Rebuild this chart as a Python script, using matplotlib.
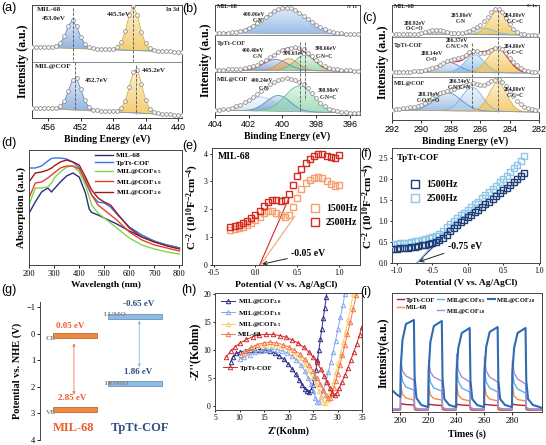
import numpy as np
import matplotlib
matplotlib.use("Agg")
import matplotlib.pyplot as plt
import matplotlib.colors as mcolors

plt.rcParams['font.family'] = 'Liberation Serif'
plt.rcParams['mathtext.fontset'] = 'custom'
plt.rcParams['mathtext.rm'] = 'Liberation Serif:bold'
plt.rcParams['mathtext.it'] = 'Liberation Serif:bold'
plt.rcParams['mathtext.bf'] = 'Liberation Serif:bold'
plt.rcParams['mathtext.default'] = 'rm'
plt.rcParams['axes.linewidth'] = 0.7
plt.rcParams['axes.edgecolor'] = '#444444'

# ---------------- (a) In 3d ----------------
in_x = np.arange(458, 439.4, -0.5)
in_mil = [71.2, 71.1, 71.1, 71.1, 71.1, 71.2, 72.0, 74.9, 82.0, 92.3, 97.7, 92.0, 81.4, 74.1, 70.9, 69.8, 69.4, 69.4, 69.2,
          69.2, 69.5, 70.8, 75.6, 86.8, 103.0, 111.6, 102.7, 86.3, 74.7, 69.7, 68.1, 67.5, 67.2, 66.8, 66.6, 66.3, 66.1, 66.0]
in_mil_base = [71.0, 65.9]
in_mil_c1 = [0.2, 0.2, 0.3, 0.4, 0.5, 0.8, 1.7, 4.8, 12.0, 22.4, 28.0, 22.4, 12.0, 4.8, 1.7, 0.8, 0.5, 0.3, 0.2] + [0] * 19
in_mil_c2 = [0] * 16 + [0.2, 0.3, 0.4, 0.7, 1.2, 2.6, 7.5, 18.9, 35.2, 44.0, 35.2, 18.9, 7.5, 2.6, 1.2, 0.7, 0.4, 0.3, 0.2, 0.1, 0.1, 0.0]
in_cof = [10.2, 10.0, 9.9, 9.8, 9.7, 9.7, 10.0, 11.6, 16.7, 27.2, 38.5, 39.7, 29.2, 17.6, 11.0, 8.5, 7.6, 7.5, 7.2,
          6.9, 7.0, 7.5, 9.8, 16.9, 31.1, 46.5, 48.2, 34.1, 18.3, 9.4, 6.0, 4.9, 4.5, 4.1, 3.7, 3.4, 3.1, 2.9]
in_cof_base = [10.0, 2.8]
in_cof_c1 = [0.2, 0.2, 0.3, 0.4, 0.5, 0.7, 1.2, 3.0, 8.3, 18.9, 30.4, 31.8, 21.5, 10.1, 3.7, 1.4, 0.7, 0.5, 0.3] + [0] * 19
in_cof_c2 = [0] * 17 + [0.3, 0.4, 0.6, 0.9, 1.6, 4.1, 11.4, 25.8, 41.4, 43.3, 29.3, 13.7, 5.0, 1.8, 0.9, 0.7, 0.5, 0.3, 0.2, 0.1, 0.1]

# ---------------- (b) N 1s ----------------
n_x = np.arange(404, 395.4, -0.25)
n_mil = [82.1, 82.2, 82.2, 82.4, 82.8, 83.4, 84.2, 85.4, 87.1, 89.2, 91.8, 94.8, 97.9, 101.0, 103.8, 106.0, 107.2, 107.5,
         106.7, 104.8, 102.3, 99.3, 96.2, 92.9, 90.1, 87.7, 85.7, 84.2, 83.1, 82.4, 81.8, 81.5, 81.3, 81.1, 81.0]
n_mil_base = [82.0, 81.0]
n_mil_c1 = [0.1, 0.2, 0.3, 0.5, 0.9, 1.5, 2.4, 3.6, 5.3, 7.5, 10.1, 13.1, 16.3, 19.4, 22.2, 24.4, 25.7, 26.0, 25.2, 23.4,
            20.9, 17.9, 14.8, 11.6, 8.8, 6.4, 4.5, 3.0, 1.9, 1.2, 0.7, 0.4, 0.2, 0.1, 0.0]
n_cof = [45.4, 45.5, 45.5, 45.7, 45.9, 46.2, 46.5, 47.1, 47.8, 48.9, 50.5, 52.7, 55.1, 57.8, 60.4, 62.9, 65.1, 66.5,
         67.3, 67.6, 67.4, 65.6, 62.5, 58.7, 54.9, 51.7, 49.2, 47.5, 46.4, 45.6, 45.1, 44.8, 44.6, 44.4, 44.3]
n_cof_base = [45.0, 44.0]
n_cof_c1 = [0] * 5 + [0.1, 0.2, 0.4, 0.9, 1.9, 3.4, 5.5, 7.8, 9.8, 10.9, 10.8, 9.4, 7.3, 5.0, 3.1, 1.7, 0.8, 0.3, 0.1] + [0] * 11
n_cof_c2 = [0] * 11 + [0.2, 0.5, 1.5, 3.4, 6.3, 9.6, 11.7, 11.7, 9.4, 6.3, 3.3, 1.5, 0.5, 0.2] + [0] * 10
n_cof_c3 = [0] * 14 + [0.2, 0.6, 1.5, 3.3, 6.2, 9.9, 13.3, 15.3, 15.0, 12.4, 8.8, 5.3, 2.7, 1.2, 0.4, 0.2, 0.1] + [0] * 4
n_hyb = [5.3, 5.4, 5.7, 6.2, 7.3, 8.6, 10.5, 12.8, 15.5, 18.4, 21.2, 24.4, 27.5, 30.7, 33.3, 35.3, 36.4, 36.7, 36.4,
         35.3, 33.4, 30.7, 26.6, 21.8, 16.9, 12.4, 8.9, 6.4, 4.7, 3.6, 3.1, 2.7, 2.4, 2.2, 2.0]
n_hyb_base = [5.0, 2.0]
n_hyb_c0 = [0.2, 0.3, 0.7, 1.3, 2.4, 3.8, 5.8, 8.0, 10.3, 12.4, 13.7, 14.0, 13.2, 11.6, 9.4, 7.1, 4.9, 3.2, 1.9, 1.1, 0.5, 0.3, 0.1] + [0] * 12
n_hyb_c1 = [0] * 6 + [0.1, 0.3, 0.7, 1.6, 3.2, 5.7, 8.9, 12.3, 14.9, 16.0, 15.1, 12.5, 9.2, 5.9, 3.3, 1.7, 0.7, 0.3, 0.1] + [0] * 10
n_hyb_c3 = [0] * 11 + [0.7, 1.6, 3.0, 5.3, 8.5, 12.7, 17.3, 21.6, 24.7, 26.0, 25.1, 22.2, 18.0, 13.4, 9.1, 5.7, 3.3, 1.7, 0.8, 0.4, 0.2, 0.1] + [0] * 2

# ---------------- (c) C 1s ----------------
c_x = np.arange(292, 281.9, -0.25)
c_mil = [86.2, 86.2, 86.2, 86.1, 86.2, 86.2, 86.3, 86.4, 86.8, 87.6, 88.6, 89.6, 90.2, 90.0, 89.2, 88.1, 87.3, 86.8,
         86.8, 87.1, 88.0, 89.1, 90.7, 92.6, 95.2, 98.8, 103.5, 108.2, 111.3, 111.5, 108.1, 102.1, 95.8, 90.8, 87.8,
         86.2, 85.6, 85.4, 85.3, 85.2, 85.1]
c_mil_base = [86.0, 85.0]
c_mil_c1 = [0] * 6 + [0.1, 0.4, 0.9, 1.7, 2.8, 3.9, 4.5, 4.3, 3.5, 2.4, 1.4, 0.7, 0.3, 0.1] + [0] * 21
c_mil_c2 = [0] * 16 + [0.2, 0.4, 0.8, 1.4, 2.4, 3.5, 4.7, 5.8, 6.4, 6.4, 5.9, 4.9, 3.6, 2.5, 1.5, 0.9, 0.4, 0.2, 0.1] + [0] * 6
c_mil_c3 = [0] * 22 + [0.4, 1.3, 3.2, 6.9, 12.1, 18.1, 22.7, 23.9, 21.2, 15.8, 9.9, 5.2, 2.3, 0.8, 0.3, 0.1] + [0] * 3
c_cof = [48.3, 48.3, 48.4, 48.3, 48.4, 48.5, 48.7, 48.8, 49.1, 49.7, 50.6, 51.7, 53.2, 55.1, 57.3, 59.0, 60.2, 60.9,
         61.8, 63.3, 65.5, 67.7, 69.1, 68.6, 67.2, 67.0, 68.2, 70.5, 72.3, 72.5, 70.7, 66.8, 62.2, 58.0, 54.6, 52.0,
         50.3, 49.2, 48.5, 48.0, 47.7]
c_cof_base = [48.0, 47.0]
c_cof_c1 = [0] * 6 + [0.1, 0.2, 0.5, 1.0, 1.9, 3.3, 5.2, 7.2, 8.9, 9.9, 9.8, 8.7, 7.0, 4.9, 3.2, 1.8, 0.9, 0.4, 0.2, 0.1] + [0] * 15
c_cof_c2 = [0] * 14 + [0.1, 0.3, 0.8, 1.9, 4.0, 7.2, 11.3, 15.2, 17.6, 17.7, 15.3, 11.4, 7.3, 4.1, 1.9, 0.8, 0.3, 0.1] + [0] * 9
c_cof_c3 = [0] * 20 + [0.2, 0.5, 1.3, 2.8, 5.5, 9.6, 14.6, 19.5, 23.0, 23.9, 21.9, 17.6, 12.5, 7.8, 4.3, 2.1, 0.9, 0.3, 0.1] + [0] * 2
c_hyb = [10.5, 10.8, 11.1, 11.6, 12.0, 12.7, 13.4, 14.2, 15.0, 16.8, 19.5, 22.3, 24.8, 26.6, 28.0, 29.1, 30.0, 31.5,
         32.9, 34.1, 35.1, 36.3, 36.9, 36.3, 35.1, 35.3, 36.7, 38.7, 40.0, 40.8, 37.9, 34.5, 29.4, 24.2, 19.5, 15.9,
         13.2, 11.8, 10.9, 10.4, 10.0]
c_hyb_base = [10.0, 8.0]
c_hyb_c1 = [0] * 4 + [0.1, 0.4, 0.7, 1.3, 2.4, 4.0, 6.2, 9.0, 12.0, 14.9, 16.9, 18.0, 17.6, 16.0, 13.4, 10.4, 7.6, 5.0, 3.1, 1.8, 1.0, 0.5, 0.2, 0.1] + [0] * 13
c_hyb_c2 = [0] * 13 + [0.1, 0.4, 1.2, 2.7, 5.3, 9.4, 14.4, 19.3, 22.9, 24.0, 22.0, 17.8, 12.6, 8.0, 4.4, 2.2, 0.9, 0.3, 0.1] + [0] * 9
c_hyb_c3 = [0] * 22 + [0.5, 1.6, 3.9, 8.3, 14.7, 21.9, 27.4, 28.9, 25.6, 19.0, 11.9, 6.2, 2.8, 1.0, 0.3, 0.1] + [0] * 3

# ---------------- (d) UV-vis ----------------
uv_wl = [200, 225, 250, 275, 290, 300, 325, 350, 375, 400, 425, 440, 450, 475, 500, 525, 550, 600, 650, 700, 750, 800]
uv_mil = [51.7, 63, 73, 77, 73, 76, 83, 89, 92, 88, 72, 56, 52.5, 50, 47, 44, 41, 34, 28, 23, 20, 17]
uv_cof = [97, 97, 99, 104, 106.5, 107, 107, 106, 103, 97, 83, 75, 70, 63, 62, 58, 51, 38, 30, 24, 20, 17]
uv_h05 = [60, 77, 77, 78, 82, 87, 93, 98, 99, 93, 80, 68, 60, 52, 47, 42, 37, 27, 20, 16, 13, 11]
uv_h10 = [67, 82, 83, 87, 90, 92, 97, 99, 99, 96, 85, 76, 70, 60, 55, 50, 45, 33, 25, 20, 17, 14]
uv_h20 = [83, 92, 93, 95, 97, 99, 103, 105, 103, 100, 88, 80, 75, 67, 63, 60, 52, 37, 28, 23, 19, 16]

# ---------------- (e)(f) Mott-Schottky ----------------
ms_e_x = np.round(np.arange(-0.3, 1.001, 0.05), 2)
ms_mil_1500 = [1.25, 1.28, 1.32, 1.37, 1.44, 1.52, 1.62, 1.74, 1.86, 1.93, 1.94, 1.88, 1.78, 1.72, 1.80, 2.08, 2.42,
               2.72, 2.93, 3.06, 3.13, 3.15, 3.11, 3.02, 2.90, 2.83, 2.86]
ms_mil_2500 = [1.38, 1.41, 1.45, 1.51, 1.58, 1.68, 1.80, 1.95, 2.12, 2.25, 2.33, 2.35, 2.31, 2.33, 2.55, 2.88, 3.20,
               3.45, 3.65, 3.80, 3.92, 3.98, 3.98, 3.93, 3.86, 3.83, 3.95]
mil_tan_1500 = ([0.06, 0.47], [0.0, 1.75])
mil_tan_2500 = ([0.05, 0.40], [0.0, 2.40])
ms_f_x = np.round(np.arange(-1.05, 0.801, 0.05), 2)
ms_cof_1500 = [0.33, 0.34, 0.35, 0.36, 0.37, 0.38, 0.39, 0.40, 0.42, 0.43, 0.45, 0.47, 0.50, 0.54, 0.60, 0.68, 0.76,
               0.84, 0.91, 0.97, 1.03, 1.09, 1.15, 1.21, 1.27, 1.34, 1.40, 1.47, 1.53, 1.60, 1.67, 1.74, 1.80, 1.87,
               1.94, 2.01, 2.08, 2.16]
ms_cof_2500 = [0.45, 0.46, 0.47, 0.48, 0.49, 0.50, 0.52, 0.53, 0.55, 0.57, 0.59, 0.62, 0.65, 0.70, 0.77, 0.85, 0.93,
               1.01, 1.08, 1.14, 1.20, 1.26, 1.33, 1.40, 1.47, 1.55, 1.62, 1.70, 1.77, 1.85, 1.93, 2.01, 2.09, 2.17,
               2.26, 2.35, 2.44, 2.55]
cof_tan_1500 = ([-0.72, -0.25], [0.0, 0.78])
cof_tan_2500 = ([-0.72, -0.32], [0.0, 0.78])

# ---------------- (g) band levels ----------------
mil_cb, mil_vb = 0.05, 2.85
cof_lumo, cof_homo = -0.65, 1.86

# ---------------- (h) EIS ----------------
eis_h20_x = [8.2, 8.7, 9.3, 10.2, 11.2, 12.2, 13.2, 14.2, 15.2, 16.2, 17.2, 18.1, 19.0, 19.9, 20.7, 21.5, 22.2, 22.8,
             23.3, 23.8, 24.2, 24.6, 25.0, 25.3, 25.6, 25.9, 26.2, 26.5, 26.8, 27.1, 27.4, 27.7, 28.0]
eis_h20_y = [7.9, 8.8, 9.4, 9.7, 9.9, 10.0, 10.1, 10.1, 10.0, 9.8, 9.5, 9.0, 8.4, 7.6, 6.7, 5.7, 4.7, 3.8, 3.1, 2.7,
             2.6, 2.9, 3.8, 5.0, 6.5, 8.2, 10.0, 11.9, 13.8, 15.7, 17.6, 19.5, 21.4]
eis_h10_x = [10.0, 11.0, 12.1, 13.2, 14.3, 15.4, 16.5, 17.6, 18.7, 19.7, 20.7, 21.6, 22.5, 23.3, 24.0, 24.6, 25.1,
             25.5, 25.9, 26.3, 26.7, 27.1, 27.6, 28.1, 28.6, 29.1, 29.6, 30.1, 30.6, 31.1, 31.5]
eis_h10_y = [8.4, 8.8, 9.2, 9.6, 9.9, 10.1, 10.2, 10.1, 9.9, 9.5, 9.0, 8.3, 7.4, 6.3, 5.1, 3.9, 2.7, 1.5, 0.7, 0.8,
             1.6, 2.8, 4.3, 6.0, 7.8, 9.7, 11.7, 13.8, 15.9, 18.1, 20.0]
eis_h05_x = [11.0, 12.0, 13.1, 14.3, 15.5, 16.7, 17.9, 19.1, 20.3, 21.4, 22.4, 23.3, 24.1, 24.9, 25.6, 26.2, 26.7,
             27.1, 27.5, 27.9, 28.3, 28.7, 29.2, 29.7, 30.2, 30.7, 31.2, 31.7, 32.2, 32.7, 33.2]
eis_h05_y = [9.6, 10.2, 10.6, 10.9, 11.0, 11.0, 10.8, 10.5, 10.0, 9.3, 8.5, 7.5, 6.4, 5.2, 3.9, 2.7, 1.6, 0.8, 0.6,
             1.0, 1.9, 3.0, 4.4, 6.0, 7.7, 9.5, 11.4, 13.4, 15.5, 17.7, 20.0]
eis_mil_x = [10.3, 11.3, 12.4, 13.6, 14.9, 16.2, 17.5, 18.8, 20.0, 21.2, 22.3, 23.3, 24.2, 25.0, 25.8, 26.5, 27.1,
             27.6, 28.0, 28.4, 28.8, 29.2, 29.6, 30.0, 30.5, 31.0, 31.5, 32.0, 32.6, 33.2, 33.8]
eis_mil_y = [9.2, 9.9, 10.5, 11.0, 11.3, 11.4, 11.3, 11.0, 10.6, 10.0, 9.3, 8.4, 7.4, 6.3, 5.1, 3.9, 2.8, 1.9, 1.4,
             1.5, 2.2, 3.2, 4.4, 5.8, 7.4, 9.1, 10.9, 12.8, 15.0, 17.3, 19.8]
eis_cof_x = [7.3, 8.2, 9.1, 10.2, 11.4, 12.7, 14.0, 15.4, 16.8, 18.2, 19.5, 20.8, 22.0, 23.1, 24.1, 25.0, 25.8, 26.6,
             27.3, 27.9, 28.4, 28.9, 29.4, 29.9, 30.4, 30.9, 31.5, 32.1, 32.7, 33.3, 33.9, 34.5, 35.0]
eis_cof_y = [8.8, 9.8, 10.6, 11.3, 11.9, 12.4, 12.7, 12.8, 12.8, 12.6, 12.3, 11.8, 11.2, 10.5, 9.7, 8.8, 7.8, 6.6,
             5.4, 4.3, 3.2, 2.3, 1.9, 2.4, 3.3, 4.3, 5.5, 6.8, 8.2, 9.6, 11.1, 12.7, 14.2]

# ---------------- (i) photocurrent ----------------
pc_starts = [200, 220, 240, 260, 280]
pc_offsets = [0, 0.3, 1.5, 4, 9.7, 10.2, 11.5, 15, 19.7]
pc_t = [194, 197] + [s + o for s in pc_starts for o in pc_offsets] + [301.5]
pc_cof = [2, 2, 2, 8.5, 8, 7.5, 7, 2.5, 2, 2, 2, 2, 8, 7.5, 7, 6.5, 2.5, 2, 2, 2, 2, 8, 7.5, 7, 6.5, 2.5, 2, 2, 2,
          2, 8, 7.5, 7, 6.5, 2.5, 2, 2, 2, 2, 8, 7.5, 7, 6.5, 2.5, 2, 2, 2, 2]
pc_mil = [2.5, 2.5, 2.5, 27, 18, 14, 12, 3.5, 3, 2.5, 2.5, 2.5, 26, 17, 13.5, 12, 3.5, 3, 2.5, 2.5, 2.5, 27, 17, 13, 11,
          3.5, 3, 2.5, 2.5, 2.5, 27, 17, 13, 11, 3.5, 3, 2.5, 2.5, 2.5, 26, 16, 12.5, 11, 3.5, 3, 2.5, 2.5, 2.5]
pc_h05 = [3, 3, 3, 42, 31, 25, 22, 4.5, 3.5, 3, 3, 3, 40, 30, 24, 21, 4.5, 3.5, 3, 3, 3, 44, 31, 24, 20, 4.5, 3.5, 3, 3,
          3, 42, 30, 24, 20, 4.5, 3.5, 3, 3, 3, 40, 29, 23, 19, 4.5, 3.5, 3, 3, 3]
pc_h10 = [3, 3, 3, 53, 41, 36, 32, 5, 3.5, 3, 3, 3, 52, 40, 35, 31, 5, 3.5, 3, 3, 3, 58, 42, 35, 30, 5, 3.5, 3, 3,
          3, 55, 41, 35, 30, 5, 3.5, 3, 3, 3, 52, 39, 33, 28, 5, 3.5, 3, 3, 3]
pc_h20 = [22, 18, 15, 45, 72, 88, 92, 35, 14, 7, 5, 5, 42, 70, 86, 91, 34, 13, 7, 5, 5, 40, 64, 79, 84, 32, 13, 7, 5,
          5, 40, 65, 80, 85, 32, 13, 7, 5, 5, 40, 64, 79, 84, 32, 13, 7, 5, 4]

# =====================================================================
fig = plt.figure(figsize=(5.46, 4.45), dpi=100)
W, H = 546.0, 445.0


def box(l, t, r, b):
    return fig.add_axes([l / W, 1 - b / H, (r - l) / W, (b - t) / H])


def grad_fill(ax, x, lo, hi, color):
    poly = ax.fill_between(x, lo, hi, facecolor='none', edgecolor='none')
    path = poly.get_paths()[0]
    img = np.ones((64, 1, 4))
    img[:, :, :3] = mcolors.to_rgb(color)
    img[:, 0, 3] = np.linspace(0.9, 0.25, 64)
    im = ax.imshow(img, extent=[x.min(), x.max(), lo.min(), hi.max()], origin='lower',
                   aspect='auto', zorder=1, interpolation='bilinear')
    im.set_clip_path(path, transform=ax.transData)


def draw_spec(ax, x, env, base_ends, comps, fit=None):
    base = np.linspace(base_ends[0], base_ends[1], len(x))
    total = np.zeros(len(x))
    for h, fc, lc in comps:
        h = np.asarray(h, float)
        total += h
        grad_fill(ax, x, base, base + h, fc)
        ax.plot(x, base + h, color=lc, lw=0.6, zorder=2)
    ax.plot(x, base, color='#a0a0a0', lw=0.5, zorder=2)
    if fit:
        ax.plot(x, base + total, color=fit, lw=0.9, zorder=3)
    ax.plot(x, env, 'o', ms=2.7, mfc='white', mec='#8e8e8e', mew=0.6, zorder=4)


def xps_axes(ax, xlim, ylim, ticks):
    ax.set_xlim(*xlim)
    ax.set_ylim(*ylim)
    ax.set_xticks(ticks)
    ax.set_yticks([])
    ax.tick_params(axis='x', labelsize=6.5, length=2, width=0.6, pad=1.5)
    for lb in ax.get_xticklabels():
        lb.set_family('Liberation Sans')
    ax.set_xlabel('Binding Energy (eV)', fontsize=7, fontweight='bold', labelpad=2)
    ax.set_ylabel('Intensity (a.u.)', fontsize=8.5, fontweight='bold', labelpad=2)


def note(ax, x, y, s, size=4.1, ha='center', color='#222222'):
    ax.text(x, y, s, fontsize=size, fontweight='bold', ha=ha, va='center', color=color, zorder=6)


BLUE, BLUE_L = '#7ea6dc', '#5a8bd0'
YEL, YEL_L = '#f3c860', '#e3b23c'
ORA, ORA_L = '#f4a868', '#e88a3c'
GRN, GRN_L = '#96dab0', '#5cc488'
LBL, LBL_L = '#b4d2ee', '#7fb6e4'

# (a)
ax = box(32, 5, 182, 118)
draw_spec(ax, in_x, in_mil, in_mil_base, [(in_mil_c1, BLUE, BLUE_L), (in_mil_c2, YEL, YEL_L)])
draw_spec(ax, in_x, in_cof, in_cof_base, [(in_cof_c1, BLUE, BLUE_L), (in_cof_c2, YEL, YEL_L)])
ax.axhline(56, color='#777777', lw=0.6)
ax.plot([453.0, 453.0], [110, 56], ls='--', color='#555555', lw=0.6, zorder=5)
ax.plot([452.7, 452.7], [56, 8], ls='--', color='#555555', lw=0.6, zorder=5)
ax.plot([445.5, 445.5], [112, 57], ls='--', color='#555555', lw=0.6, zorder=5)
ax.plot([445.2, 445.2], [53, 4], ls='--', color='#555555', lw=0.6, zorder=5)
note(ax, 457.4, 108.5, 'MIL-68', 5.2, 'left')
note(ax, 439.8, 108.5, 'In 3d', 4.2, 'right')
note(ax, 455.3, 99.5, '453.0eV', 5.0)
note(ax, 447.3, 104, '445.5eV', 5.0)
note(ax, 457.6, 51.3, 'MIL@COF', 5.2, 'left')
note(ax, 450.0, 38, '452.7eV', 5.0)
note(ax, 443.0, 48, '445.2eV', 5.0)
xps_axes(ax, (458, 439.5), (0, 113), [456, 452, 448, 444, 440])

# (b)
ax = box(215, 5, 360, 115)
draw_spec(ax, n_x, n_mil, n_mil_base, [(n_mil_c1, '#8db6e4', BLUE_L)])
draw_spec(ax, n_x, n_cof, n_cof_base, [(n_cof_c1, BLUE, BLUE_L), (n_cof_c2, ORA, ORA_L), (n_cof_c3, GRN, GRN_L)],
          fit='#e8322a')
draw_spec(ax, n_x, n_hyb, n_hyb_base, [(n_hyb_c0, '#d3e3f4', '#a9c8ea'), (n_hyb_c1, BLUE, BLUE_L),
                                         (n_hyb_c3, GRN, GRN_L)])
ax.axhline(80, color='#777777', lw=0.6)
ax.axhline(43, color='#777777', lw=0.6)
ax.plot([398.98, 398.98], [73, 4], ls='--', color='#555555', lw=0.6, zorder=5)
ax.plot([398.66, 398.66], [73, 15], ls='--', color='#555555', lw=0.6, zorder=5)
note(ax, 403.9, 108.3, 'MIL-68', 4.5, 'left')
note(ax, 395.6, 108.3, 'N 1s', 3.8, 'right')
note(ax, 401.66, 101, '400.06eV')
note(ax, 401.45, 95, 'C-N')
note(ax, 403.9, 71.7, 'TpTt-COF', 4.5, 'left')
note(ax, 401.72, 65, '400.40eV')
note(ax, 401.48, 58.3, 'C-N')
note(ax, 399.3, 61.7, '399.63eV')
note(ax, 397.43, 66.7, '398.66eV')
note(ax, 397.5, 59, 'C-N=C')
note(ax, 403.9, 36.0, 'MIL@COF', 4.5, 'left')
note(ax, 401.9, 34.0, '400.24eV', ha='left')
note(ax, 401.1, 26.7, 'C-N')
note(ax, 397.24, 25, '398.98eV')
note(ax, 397.27, 17.3, 'C-N=C')
xps_axes(ax, (404, 395.4), (0, 110), [404, 402, 400, 398, 396])

# (c)
ax = box(392, 5, 539, 120)
draw_spec(ax, c_x, c_mil, c_mil_base, [(c_mil_c1, '#a8c4e8', BLUE_L), (c_mil_c2, '#9ccbee', LBL_L),
                                        (c_mil_c3, YEL, YEL_L)])
draw_spec(ax, c_x, c_cof, c_cof_base, [(c_cof_c1, '#a8c4e8', BLUE_L), (c_cof_c2, '#8cc2ec', LBL_L),
                                        (c_cof_c3, YEL, YEL_L)], fit='#e8322a')
draw_spec(ax, c_x, c_hyb, c_hyb_base, [(c_hyb_c1, '#94b6e2', BLUE_L), (c_hyb_c2, LBL, LBL_L),
                                        (c_hyb_c3, YEL, YEL_L)])
ax.axhline(83, color='#777777', lw=0.6)
ax.axhline(43, color='#777777', lw=0.6)
ax.plot([284.8, 284.8], [110, 8], ls='--', color='#555555', lw=0.6, zorder=5)
ax.plot([286.54, 286.54], [77, 12], ls='--', color='#555555', lw=0.6, zorder=5)
note(ax, 291.87, 114, 'MIL-68', 4.5, 'left')
note(ax, 282.15, 114, 'C 1s', 3.8, 'right')
note(ax, 290.47, 96.7, '288.92eV')
note(ax, 290.47, 91, 'O-C=O')
note(ax, 287.23, 104.3, '285.86eV')
note(ax, 287.3, 98.3, 'C-N')
note(ax, 283.63, 104.3, '284.80eV')
note(ax, 283.63, 98.3, 'C-C=C')
note(ax, 291.87, 74, 'TpTt-COF', 4.5, 'left')
note(ax, 287.57, 79.3, '286.37eV')
note(ax, 287.53, 73.3, 'C-N/C=N')
note(ax, 289.3, 66.7, '288.14eV')
note(ax, 289.3, 60.7, 'C=O')
note(ax, 283.63, 73.3, '284.80eV')
note(ax, 283.63, 67.3, 'C-C=C')
note(ax, 291.87, 36.7, 'MIL@COF', 4.5, 'left')
note(ax, 287.4, 38.3, '286.54eV')
note(ax, 287.4, 32.7, 'C-N/C=N')
note(ax, 289.53, 25.7, '288.19eV')
note(ax, 289.53, 19.3, 'C-O/C=O')
note(ax, 283.63, 30.7, '284.80eV')
note(ax, 283.63, 24.7, 'C-C=C')
xps_axes(ax, (292, 282), (0, 115), [292, 290, 288, 286, 284, 282])

# (d)
ax = box(29, 150, 182, 265)
for vals, col, lab in [(uv_mil, '#2b2b80', 'MIL-68'), (uv_cof, '#3079e0', 'TpTt-COF'),
                       (uv_h05, '#80d848', 'MIL@COF$_{0.5}$'), (uv_h10, '#e8402a', 'MIL@COF$_{1.0}$'),
                       (uv_h20, '#9a1a1a', 'MIL@COF$_{2.0}$')]:
    ax.plot(uv_wl, vals, color=col, lw=1.0, label=lab)
ax.set_xlim(200, 810)
ax.set_ylim(0, 115)
ax.set_xticks(range(200, 801, 100))
ax.set_yticks([])
ax.tick_params(axis='x', labelsize=6, length=2, width=0.6, pad=1.5)
ax.set_xlabel('Wavelength (nm)', fontsize=6.8, fontweight='bold', labelpad=2)
ax.set_ylabel('Absorption (a.u.)', fontsize=8, fontweight='bold', labelpad=2)
ax.legend(loc='upper left', bbox_to_anchor=(0.42, 1.0), frameon=False, borderaxespad=0.1, borderpad=0.2,
          handlelength=2.4, handletextpad=0.4, labelspacing=0.2, prop={'weight': 'bold', 'size': 5.3})

# (e)
ax = box(212, 148, 360, 265)
ax.plot(ms_e_x, ms_mil_1500, 's', ms=3.7, mfc='none', mec='#f6a070', mew=1.0, label='1500Hz', zorder=3)
ax.plot(ms_e_x, ms_mil_2500, 's', ms=3.7, mfc='none', mec='#d42a22', mew=1.0, label='2500Hz', zorder=3)
ax.plot(*mil_tan_1500, color='#f6a070', lw=0.8)
ax.plot(*mil_tan_2500, color='#d42a22', lw=0.8)
ax.annotate('-0.05 eV', xy=(0.08, 0.03), xytext=(0.43, 0.4), fontsize=7, fontweight='bold', va='center',
            arrowprops=dict(arrowstyle='->', color='#222222', lw=0.7, shrinkA=1, shrinkB=0))
ax.text(0.04, 0.93, 'MIL-68', transform=ax.transAxes, fontsize=7, fontweight='bold', va='center')
ax.set_xlim(-0.52, 1.25)
ax.set_ylim(0, 4.2)
ax.set_xticks([-0.5, 0.0, 0.5, 1.0])
ax.set_xticklabels(['-0.5', '0.0', '0.5', '1.0'])
ax.set_yticks([0, 1, 2, 3, 4])
ax.tick_params(labelsize=5.5, length=1.5, width=0.6, pad=1.5)
ax.set_xlabel('Potential (V vs. Ag/AgCl)', fontsize=6.8, fontweight='bold', labelpad=3)
ax.set_ylabel('C$^{-2}$ (10$^{10}$F$^{-2}$cm$^{-4}$)', fontsize=8, fontweight='bold', labelpad=2)
ax.legend(loc='center left', bbox_to_anchor=(0.6, 0.42), frameon=False, markerscale=1.4, handlelength=1.2,
          handletextpad=0.5, labelspacing=0.5, prop={'weight': 'bold', 'size': 7})

# (f)
ax = box(392, 148, 540, 263)
ax.plot(ms_f_x, ms_cof_2500, 's', ms=3.7, mfc='none', mec='#8ec6ea', mew=1.0, label='2500Hz', zorder=3)
ax.plot(ms_f_x, ms_cof_1500, 's', ms=3.7, mfc='none', mec='#1f3e78', mew=1.0, label='1500Hz', zorder=3)
ax.plot(*cof_tan_1500, color='#1f3e78', lw=0.8)
ax.plot(*cof_tan_2500, color='#8ec6ea', lw=0.8)
ax.annotate('-0.75 eV', xy=(-0.69, 0.03), xytext=(-0.28, 0.4), fontsize=7, fontweight='bold', va='center',
            arrowprops=dict(arrowstyle='->', color='#222222', lw=0.7, shrinkA=1, shrinkB=0))
ax.text(0.03, 0.91, 'TpTt-COF', transform=ax.transAxes, fontsize=6.5, fontweight='bold', va='center')
ax.set_xlim(-1.07, 1.02)
ax.set_ylim(0, 2.75)
ax.set_xticks([-1.0, -0.5, 0.0, 0.5, 1.0])
ax.set_xticklabels(['-1.0', '-0.5', '0.0', '0.5', '1.0'])
ax.set_yticks([0, 0.5, 1.0, 1.5, 2.0, 2.5])
ax.set_yticklabels(['0.0', '0.5', '1.0', '1.5', '2.0', '2.5'])
ax.tick_params(labelsize=5.5, length=1.5, width=0.6, pad=1.5)
ax.set_xlabel('Potential (V vs. Ag/AgCl)', fontsize=6.8, fontweight='bold', labelpad=3)
ax.set_ylabel('C$^{-2}$ (10$^{10}$F$^{-2}$cm$^{-4}$)', fontsize=8, fontweight='bold', labelpad=1)
hs, ls = ax.get_legend_handles_labels()
ax.legend(hs[::-1], ls[::-1], loc='center left', bbox_to_anchor=(0.06, 0.62), frameon=False, markerscale=1.4,
          handlelength=1.2, handletextpad=0.5, labelspacing=0.5, prop={'weight': 'bold', 'size': 7})

# (g)
ax = box(40, 302, 185, 440)
ax.barh(mil_cb, 0.30, left=0.09, height=0.2, color='#f28a3c', edgecolor='#a05a28', lw=0.5)
ax.barh(mil_vb, 0.30, left=0.09, height=0.2, color='#f28a3c', edgecolor='#a05a28', lw=0.5)
ax.barh(cof_lumo, 0.37, left=0.47, height=0.2, color='#8cbce6', edgecolor='#5c82a8', lw=0.5)
ax.barh(cof_homo, 0.37, left=0.47, height=0.2, color='#8cbce6', edgecolor='#5c82a8', lw=0.5)
ax.annotate('', xy=(0.234, mil_cb + 0.2), xytext=(0.234, mil_vb - 0.45),
            arrowprops=dict(arrowstyle='<|-|>', color='#f07a5a', lw=0.6, mutation_scale=4))
ax.annotate('', xy=(0.685, cof_lumo + 0.05), xytext=(0.685, cof_homo - 0.5),
            arrowprops=dict(arrowstyle='<|-|>', color='#8cbce6', lw=0.6, mutation_scale=4))
for xx, yy, s, c, fs in [(0.21, -0.3, '%.2f eV' % mil_cb, '#f05a2a', 6.5),
                         (0.22, 2.43, '%.2f eV' % mil_vb, '#f05a2a', 6.5),
                         (0.68, -1.13, '%.2f eV' % cof_lumo, '#2e4f80', 6.5),
                         (0.68, 1.45, '%.2f eV' % cof_homo, '#2e4f80', 6.5),
                         (0.076, 0.16, 'CB', '#888888', 5.3), (0.076, 2.95, 'VB', '#888888', 5.3),
                         (0.52, -0.74, 'LUMO', '#888888', 5.3), (0.53, 1.86, 'HOMO', '#888888', 5.3),
                         (0.23, 3.56, 'MIL-68', '#f05a2a', 9), (0.69, 3.56, 'TpTt-COF', '#2e4f80', 9)]:
    ax.text(xx, yy, s, color=c, fontsize=fs, fontweight='bold', ha='center', va='center')
ax.set_xlim(0, 1)
ax.set_ylim(4, -1.2)
ax.set_yticks([-1, 0, 1, 2, 3, 4])
ax.set_xticks([])
for sp in ['top', 'right', 'bottom']:
    ax.spines[sp].set_visible(False)
ax.tick_params(axis='y', labelsize=6, length=2, width=0.6, pad=1.5)
ax.set_ylabel('Potential vs. NHE (V)', fontsize=7.5, fontweight='bold', labelpad=3)

# (h)
ax = box(215, 293, 362, 410)
eis = [(eis_h20_x, eis_h20_y, '#2e2e8e', 'MIL@COF$_{2.0}$'), (eis_h10_x, eis_h10_y, '#84a8f0', 'MIL@COF$_{1.0}$'),
       (eis_h05_x, eis_h05_y, '#f8d070', 'MIL@COF$_{0.5}$'), (eis_mil_x, eis_mil_y, '#f4784e', 'MIL-68'),
       (eis_cof_x, eis_cof_y, '#d42a2a', 'TpTt-COF')]
hl = []
for xs, ys, col, lab in eis:
    ln, = ax.plot(xs, ys, '-^', color=col, ms=3.2, mfc='none', mew=0.7, lw=0.7, label=lab)
    hl.append(ln)
leg1 = ax.legend(hl[:4], [e[3] for e in eis[:4]], loc='upper left', bbox_to_anchor=(0.01, 1.0), frameon=False,
                 handlelength=2.0, handletextpad=0.5, labelspacing=0.35, borderaxespad=0.2,
                 prop={'weight': 'bold', 'size': 5})
ax.add_artist(leg1)
ax.legend(hl[4:], [eis[4][3]], loc='center left', bbox_to_anchor=(0.01, 0.36), frameon=False,
          handlelength=2.0, handletextpad=0.5, prop={'weight': 'bold', 'size': 5})
ax.set_xlim(5, 35)
ax.set_ylim(-0.7, 20.2)
ax.set_xticks([5, 10, 15, 20, 25, 30, 35])
ax.set_yticks([0, 5, 10, 15, 20])
ax.tick_params(labelsize=5.5, length=1.5, width=0.6, pad=1.5)
ax.set_xlabel("Z'(Kohm)", fontsize=7, fontweight='bold', labelpad=3)
ax.set_ylabel("-Z''(Kohm)", fontsize=8.5, fontweight='bold', labelpad=2)

# (i)
ax = box(392, 293, 542, 412)
for vals, col, lab, lw in [(pc_cof, '#b8202c', 'TpTt-COF', 1.0), (pc_mil, '#f7894a', 'MIL-68', 1.0),
                           (pc_h05, '#62aee6', 'MIL@COF$_{0.5}$', 1.0), (pc_h10, '#a68ad8', 'MIL@COF$_{1.0}$', 1.0),
                           (pc_h20, '#2f6bb3', 'MIL@COF$_{2.0}$', 1.5)]:
    ax.plot(pc_t, vals, color=col, lw=lw, label=lab)
ax.legend(loc='upper left', bbox_to_anchor=(0.0, 1.02), ncol=3, frameon=False, handlelength=1.1,
          handletextpad=0.25, columnspacing=0.35, labelspacing=0.3, borderpad=0.3,
          prop={'weight': 'bold', 'size': 4.6})
ax.set_xlim(194, 301.5)
ax.set_ylim(0, 119)
ax.set_xticks([200, 220, 240, 260, 280])
ax.set_yticks([])
ax.tick_params(axis='x', labelsize=6.5, length=2, width=0.6, pad=1.5)
ax.set_xlabel('Times (s)', fontsize=7, fontweight='bold', labelpad=3)
ax.set_ylabel('Intensity(a.u.)', fontsize=8.5, fontweight='bold', labelpad=2)

# panel labels
for px, py, s in [(1, 2, '(a)'), (182, 3, '(b)'), (362, 12, '(c)'), (1, 137, '(d)'), (182, 140, '(e)'),
                  (360, 148, '(f)'), (1, 284, '(g)'), (181, 284, '(h)'), (360, 286, '(i)')]:
    fig.text(px / W, 1 - py / H, s, fontsize=9, family='Liberation Sans', va='top', ha='left')

fig.savefig('out.png', dpi=100)
